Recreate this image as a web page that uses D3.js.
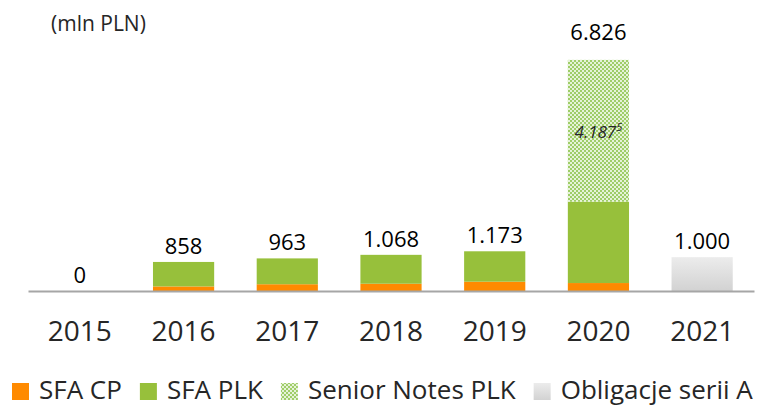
<!DOCTYPE html>
<html>
<head>
<meta charset="utf-8">
<script src="https://cdn.jsdelivr.net/npm/d3@7"></script>
<style>
    body { margin: 0; background: #fff; }
    svg text { font-family: 'Open Sans', sans-serif; }
</style>
</head>
<body>
<svg id="chart" width="780" height="407"></svg>
<script>
// values in mln PLN
let years = ['2015', '2016', '2017', '2018', '2019', '2020', '2021'];
let sfaCP = [0, 135, 200, 215, 275, 235, 0];
let sfaPLK = [0, 723, 763, 853, 898, 2404, 0];
let seniorNotes = [0, 0, 0, 0, 0, 4187, 0];
let obligacje = [0, 0, 0, 0, 0, 0, 1000];
let totals = ['0', '858', '963', '1.068', '1.173', '6.826', '1.000'];
let seriesNames = ['SFA CP', 'SFA PLK', 'Senior Notes PLK', 'Obligacje serii A'];

let svg = d3.select('#chart');
let defs = svg.append('defs');

// checker pattern for the senior notes
let pat = defs.append('pattern')
    .attr('id', 'checker')
    .attr('width', 4).attr('height', 4)
    .attr('patternUnits', 'userSpaceOnUse');
pat.append('rect').attr('width', 4).attr('height', 4).attr('fill', '#9fcd68');
pat.append('rect').attr('x', 0).attr('y', 0).attr('width', 2).attr('height', 2).attr('fill', '#e6f3d8');
pat.append('rect').attr('x', 2).attr('y', 2).attr('width', 2).attr('height', 2).attr('fill', '#e6f3d8');

let grad = defs.append('linearGradient')
    .attr('id', 'grayGrad')
    .attr('x1', 0).attr('y1', 0).attr('x2', 0).attr('y2', 1);
grad.append('stop').attr('offset', '0%').attr('stop-color', '#ececec');
grad.append('stop').attr('offset', '100%').attr('stop-color', '#d2d2d2');

let colors = ['#ff8a00', '#97c03b', 'url(#checker)', 'url(#grayGrad)'];

let rows = years.map(function(y, i) {
    return {
        year: y,
        'SFA CP': sfaCP[i],
        'SFA PLK': sfaPLK[i],
        'Senior Notes PLK': seniorNotes[i],
        'Obligacje serii A': obligacje[i]
    };
});

let x = d3.scaleBand().domain(years).range([28, 754])
    .paddingInner(0.41).paddingOuter(0.205);
let y = d3.scaleLinear().domain([0, 7000]).range([291, 54]);

let stacked = d3.stack().keys(seriesNames)(rows);

svg.append('g').selectAll('g')
    .data(stacked)
    .join('g')
    .attr('fill', function(d, i) { return colors[i]; })
    .selectAll('rect')
    .data(function(d) { return d; })
    .join('rect')
    .attr('x', function(d) { return x(d.data.year); })
    .attr('y', function(d) { return y(d[1]); })
    .attr('width', x.bandwidth())
    .attr('height', function(d) { return y(d[0]) - y(d[1]); });

// axis
let xAxis = svg.append('g')
    .attr('transform', 'translate(0,' + y(0) + ')')
    .call(d3.axisBottom(x).tickSize(0).tickPadding(30));
xAxis.select('.domain').attr('stroke', '#a6a6a6').attr('stroke-width', 2);
xAxis.selectAll('text')
    .attr('font-size', 28)
    .attr('fill', '#262626')
    .style('font-family', "'Open Sans', sans-serif");

// totals above bars
svg.append('g').selectAll('text')
    .data(years)
    .join('text')
    .attr('x', function(d) { return x(d) + x.bandwidth() / 2; })
    .attr('y', function(d, i) {
        let tot = sfaCP[i] + sfaPLK[i] + seniorNotes[i] + obligacje[i];
        return y(tot) - (i == 5 ? 20 : 8);
    })
    .attr('text-anchor', 'middle')
    .attr('font-size', 22)
    .attr('fill', '#000')
    .text(function(d, i) { return totals[i]; });

// senior notes inner label
let sIdx = 5;
let sn = svg.append('text')
    .attr('x', x(years[sIdx]) + x.bandwidth() / 2)
    .attr('y', y(sfaCP[sIdx] + sfaPLK[sIdx] + seniorNotes[sIdx] / 2) + 7)
    .attr('text-anchor', 'middle')
    .attr('font-size', 17)
    .attr('font-style', 'italic')
    .attr('fill', '#262626');
sn.append('tspan').text('4.187');
sn.append('tspan').attr('font-size', 11).attr('dy', -7).text('5');

svg.append('text')
    .attr('x', 51).attr('y', 31)
    .attr('font-size', 21)
    .attr('fill', '#262626')
    .text('(mln PLN)');

// legend
let lx = 12;
seriesNames.forEach(function(name, i) {
    svg.append('rect')
        .attr('x', lx).attr('y', 383)
        .attr('width', 17).attr('height', 17)
        .attr('fill', colors[i]);
    let t = svg.append('text')
        .attr('x', lx + 27).attr('y', 399)
        .attr('font-size', 26)
        .attr('fill', '#262626')
        .text(name);
    lx += 27 + t.node().getComputedTextLength() + 18;
});
</script>
</body>
</html>
